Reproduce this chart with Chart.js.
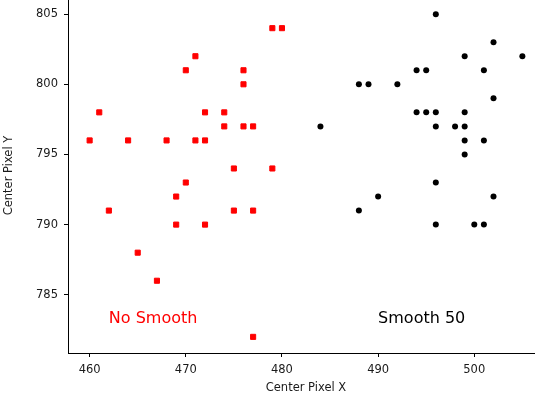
<!DOCTYPE html>
<html>
<head>
<meta charset="utf-8">
<script src="https://cdn.jsdelivr.net/npm/chart.js@4/dist/chart.umd.min.js"></script>
<style>
    html, body { margin: 0; padding: 0; background: #fff; overflow: hidden; width: 535px; height: 402px; }
    #scatterChart { position: absolute; left: 0; top: -2px; }
</style>
</head>
<body>
<canvas id="scatterChart" width="544" height="404"></canvas>
<script>
// Bez vyhladzovania (červené štvorce)
const noSmoothX = [460, 461, 464, 468, 470, 471, 471, 472, 472, 474, 474, 475, 476, 476, 476, 477, 479, 480, 479, 470, 469, 462, 475, 477, 469, 472, 465, 467, 477];
const noSmoothY = [796, 798, 796, 796, 801, 802, 796, 798, 796, 798, 797, 794, 801, 800, 797, 797, 804, 804, 794, 793, 792, 791, 791, 791, 790, 790, 788, 786, 782];

// Vyhladenie 50 (čierne body)
const smoothX = [496, 502, 499, 505, 494, 495, 501, 488, 489, 492, 502, 494, 495, 496, 499, 484, 496, 498, 499, 499, 501, 499, 496, 490, 502, 488, 496, 500, 501];
const smoothY = [805, 803, 802, 802, 801, 801, 801, 800, 800, 800, 799, 798, 798, 798, 798, 797, 797, 797, 797, 796, 796, 795, 793, 792, 792, 791, 790, 790, 790];

// Popisky v grafe
const labels = [
    { text: 'No Smooth', x: 462, y: 783, color: '#ff0000' },
    { text: 'Smooth 50', x: 490, y: 783, color: '#000000' }
];

const xTicks = [460, 470, 480, 490, 500];
const yTicks = [785, 790, 795, 800, 805];

const fontFamily = "'DejaVu Sans', sans-serif";

function toPoints(xs, ys) {
    return xs.map((x, i) => ({ x: x, y: ys[i] }));
}

// Plugin na kreslenie textových popiskov v súradniciach dát
const textLabels = {
    id: 'textLabels',
    afterDatasetsDraw(chart) {
        const ctx = chart.ctx;
        const xs = chart.scales.x;
        const ys = chart.scales.y;
        ctx.save();
        ctx.font = "16px " + fontFamily;
        ctx.textAlign = 'left';
        ctx.textBaseline = 'alphabetic';
        labels.forEach(l => {
            ctx.fillStyle = l.color;
            ctx.fillText(l.text, xs.getPixelForValue(l.x), ys.getPixelForValue(l.y));
        });
        ctx.restore();
    }
};

const axisCommon = {
    type: 'linear',
    grid: { display: true, drawOnChartArea: false, drawTicks: true, tickLength: 4, color: '#000', lineWidth: 1 },
    border: { display: true, color: '#000', width: 1 },
    ticks: { color: '#1a1a1a', padding: 6, font: { family: fontFamily, size: 11.5 } },
    title: { display: true, color: '#1a1a1a', font: { family: fontFamily, size: 11.5 } }
};

new Chart(document.getElementById('scatterChart'), {
    type: 'scatter',
    data: {
        datasets: [
            {
                label: 'No Smooth',
                data: toPoints(noSmoothX, noSmoothY),
                pointStyle: 'rect',
                pointRadius: 3.6,
                borderWidth: 1,
                borderColor: '#ff0000',
                backgroundColor: '#ff0000'
            },
            {
                label: 'Smooth 50',
                data: toPoints(smoothX, smoothY),
                pointStyle: 'circle',
                pointRadius: 3,
                borderWidth: 0,
                backgroundColor: '#000000'
            }
        ]
    },
    options: {
        responsive: false,
        animation: false,
        devicePixelRatio: 1,
        layout: { padding: 0, autoPadding: false },
        plugins: { legend: { display: false }, tooltip: { enabled: false } },
        scales: {
            x: {
                ...axisCommon,
                min: 457.75,
                max: 507.25,
                ticks: { ...axisCommon.ticks, stepSize: 10, maxRotation: 0 },
                title: { ...axisCommon.title, text: 'Center Pixel X', padding: { top: 4, bottom: 7 } },
                afterBuildTicks(scale) {
                    scale.ticks = xTicks.map(v => ({ value: v }));
                },
                afterFit(scale) {
                    scale.height = 49;
                    scale.paddingLeft = 0;
                    scale.paddingRight = 0;
                }
            },
            y: {
                ...axisCommon,
                min: 780.85,
                max: 806.15,
                ticks: { ...axisCommon.ticks, stepSize: 5 },
                title: { ...axisCommon.title, text: 'Center Pixel Y', padding: { top: 2, bottom: 0 } },
                afterBuildTicks(scale) {
                    scale.ticks = yTicks.map(v => ({ value: v }));
                },
                afterFit(scale) {
                    scale.width = 68;
                    scale.paddingTop = 0;
                    scale.paddingBottom = 0;
                }
            }
        }
    },
    plugins: [textLabels]
});
</script>
</body>
</html>
